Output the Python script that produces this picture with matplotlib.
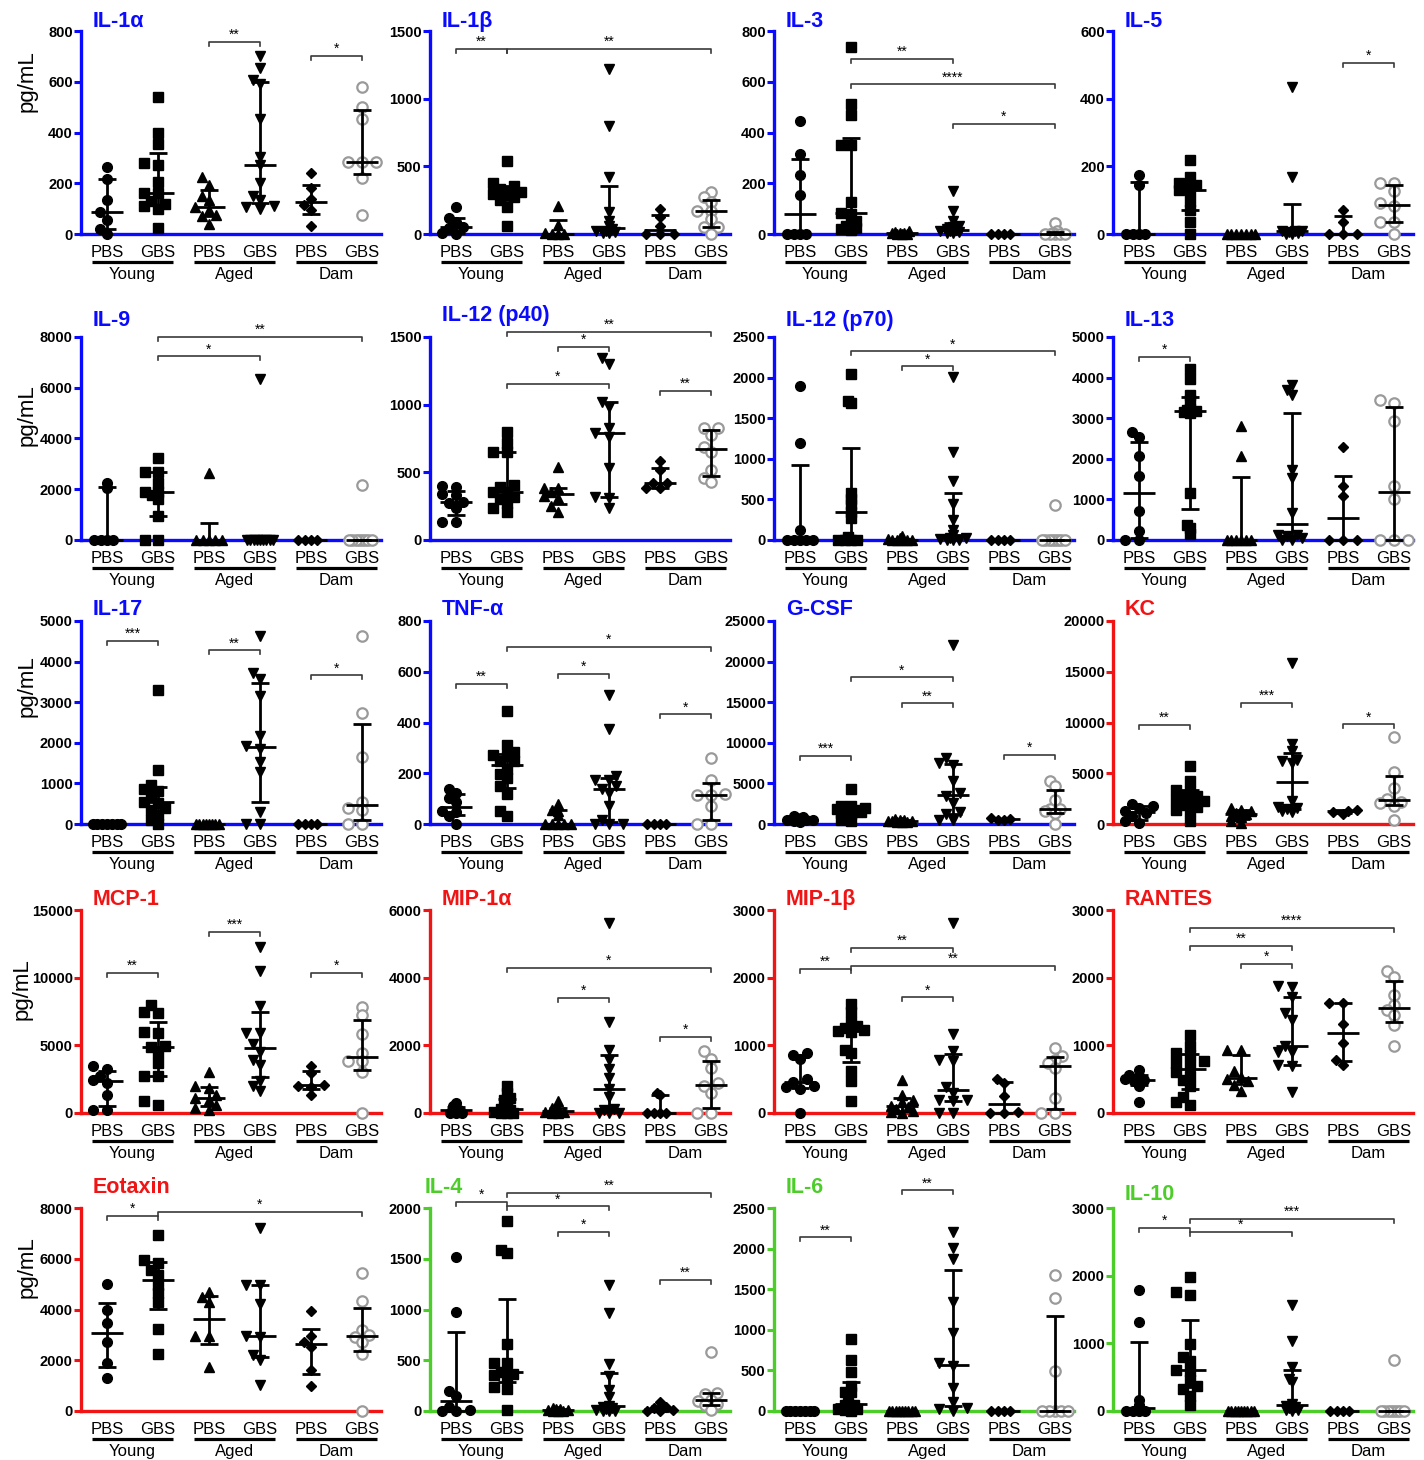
# Multiplex cytokine panel - scatter dot plots with median / IQR and
# significance brackets, laid out as a 5 x 4 grid like the Prism figure.

import numpy as np
import matplotlib.pyplot as plt
from matplotlib.transforms import ScaledTranslation

plt.rcParams['font.family'] = ['Liberation Sans', 'DejaVu Sans']

# ---------------------------------------------------------------- data
groups = ['PBS', 'GBS', 'PBS', 'GBS', 'PBS', 'GBS']
cohorts = ['Young', 'Aged', 'Dam']

titles = ['IL-1α', 'IL-1β', 'IL-3', 'IL-5',
          'IL-9', 'IL-12 (p40)', 'IL-12 (p70)', 'IL-13',
          'IL-17', 'TNF-α', 'G-CSF', 'KC',
          'MCP-1', 'MIP-1α', 'MIP-1β', 'RANTES',
          'Eotaxin', 'IL-4', 'IL-6', 'IL-10']
kind = ['b', 'b', 'b', 'b', 'b', 'b', 'b', 'b', 'b', 'b', 'b', 'r',
        'r', 'r', 'r', 'r', 'r', 'g', 'g', 'g']
ymax = [800, 1500, 800, 600, 8000, 1500, 2500, 5000, 5000, 800, 25000, 20000,
        15000, 6000, 3000, 3000, 8000, 2000, 2500, 3000]
ystep = [200, 500, 200, 200, 2000, 500, 500, 1000, 1000, 200, 5000, 5000,
         5000, 2000, 1000, 1000, 2000, 500, 500, 1000]

# each panel: Young PBS, Young GBS, Aged PBS, Aged GBS, Dam PBS, Dam GBS
il1a = [[265, 215, 134, 87, 56, 20, 0],
        [540, 400, 355, 280, 270, 205, 163, 160, 130, 120, 110, 100, 25],
        [225, 195, 150, 135, 105, 95, 75, 70, 40],
        [700, 655, 605, 590, 455, 305, 270, 200, 150, 135, 110, 105, 100],
        [239, 180, 137, 115, 95, 33],
        [581, 500, 452, 285, 285, 285, 219, 76]]
il1b = [[197, 120, 85, 55, 45, 5, 0],
        [541, 374, 357, 330, 307, 300, 295, 270, 250, 197, 57],
        [209, 65, 5, 0, 0, 0],
        [1217, 799, 420, 160, 98, 61, 35, 25, 20, 15, 10, 5],
        [184, 123, 61, 0, 0, 0],
        [307, 270, 233, 172, 172, 110, 49, 49, 0]]
il3 = [[446, 317, 233, 155, 0, 0, 0, 0],
       [738, 514, 467, 351, 351, 125, 82, 80, 50, 40, 30, 25, 20, 15],
       [10, 8, 5, 5, 3, 0, 0, 0],
       [168, 92, 50, 30, 26, 20, 15, 12, 10, 8, 5, 3],
       [0, 0, 0, 0],
       [42, 10, 5, 0, 0, 0, 0, 0]]
il5 = [[175, 146, 0, 0, 0, 0],
       [219, 167, 150, 146, 140, 130, 128, 98, 71, 34, 0],
       [0, 0, 0, 0, 0, 0, 0],
       [435, 167, 10, 10, 8, 5, 3, 0, 0],
       [71, 34, 0, 0, 0],
       [150, 150, 126, 92, 82, 34, 34, 0]]
il9 = [[2230, 2060, 0, 0, 0, 0],
       [3250, 2690, 2690, 2230, 1900, 1900, 1770, 1600, 957, 0, 0],
       [2623, 0, 0, 0, 0, 0],
       [6360, 0, 0, 0, 0, 0, 0, 0, 0, 0],
       [0, 0, 0, 0],
       [2164, 0, 0, 0, 0, 0, 0, 0, 0]]
il12p40 = [[400, 393, 337, 332, 283, 270, 234, 135, 135],
           [799, 718, 652, 652, 406, 393, 357, 356, 320, 300, 270, 234, 209],
           [541, 386, 386, 357, 323, 307, 250, 209],
           [1345, 1303, 1020, 983, 824, 787, 762, 529, 320, 307, 238],
           [585, 516, 423, 418, 381, 381],
           [829, 829, 775, 690, 652, 516, 460, 430]]
il12p70 = [[1893, 1200, 119, 0, 0, 0, 0, 0],
           [2049, 1717, 1684, 578, 500, 438, 340, 275, 41, 0, 0, 0, 0],
           [50, 20, 10, 5, 0, 0, 0, 0],
           [2008, 1078, 725, 438, 246, 123, 61, 30, 20, 10, 5, 0, 0],
           [0, 0, 0, 0],
           [430, 0, 0, 0, 0, 0, 0, 0, 0]]
il13 = [[2664, 2541, 2074, 1582, 713, 230, 0, 0],
        [4221, 3959, 3566, 3459, 3238, 3197, 3172, 3150, 3139, 1148, 369, 287, 139],
        [2803, 2066, 0, 0, 0, 0, 0, 0],
        [3828, 3705, 3582, 1721, 1533, 656, 130, 120, 100, 50, 0, 0],
        [2279, 1328, 1074, 0, 0, 0],
        [3443, 3385, 2934, 1336, 1008, 0, 0, 0]]
il17 = [[0, 0, 0, 0, 0, 0, 0],
        [3298, 1340, 970, 860, 806, 683, 535, 518, 395, 354, 230, 107, 0],
        [0, 0, 0, 0, 0, 0, 0, 0],
        [4630, 3725, 3577, 3150, 2163, 1933, 1850, 1520, 1275, 288, 0, 0],
        [0, 0, 0, 0],
        [4630, 2722, 1653, 554, 400, 354, 0, 0]]
tnfa = [[138, 122, 103, 85, 50, 46, 30, 0],
        [447, 311, 284, 271, 267, 247, 247, 218, 197, 182, 149, 118, 53, 33],
        [79, 54, 53, 34, 0, 0, 0, 0, 0],
        [507, 375, 188, 175, 172, 150, 139, 122, 70, 17, 0, 0, 0],
        [0, 0, 0, 0],
        [260, 175, 120, 116, 116, 70, 0, 0]]
gcsf = [[1000, 900, 700, 550, 520, 450, 400, 300],
        [4296, 2200, 2168, 2000, 1800, 1760, 1700, 1432, 1350, 1268, 941, 532, 327],
        [600, 500, 450, 400, 380, 350, 300, 250, 200],
        [22013, 8101, 7488, 7283, 5237, 3805, 3400, 2578, 1432, 1200, 532, 500],
        [700, 600, 550, 450],
        [5237, 4623, 2987, 1900, 1800, 1555, 1300, 0]]
kc = [[1974, 1809, 1579, 1250, 1050, 757, 300, 99],
      [5757, 4276, 3388, 3289, 2900, 2730, 2401, 2300, 2237, 1908, 1700, 1414, 1250, 329],
      [1579, 1414, 1300, 1100, 1020, 822, 658, 250, 99],
      [15822, 7928, 7171, 6349, 6184, 6000, 2237, 1678, 1579, 1500, 1250, 1200],
      [1400, 1300, 1200, 1000],
      [8553, 5098, 3553, 2470, 2200, 2072, 1750, 428]]
mcp1 = [[3492, 3246, 2754, 2420, 2250, 1352, 246, 246],
        [7992, 7500, 7426, 6000, 5902, 4918, 4869, 4426, 3689, 2754, 2705, 861, 615],
        [3000, 2016, 1844, 1352, 1106, 984, 615, 369, 246],
        [12295, 10525, 7942, 5902, 5902, 5090, 4500, 3934, 3566, 2336, 2000, 1598],
        [3492, 2951, 2100, 2016, 1930, 1352],
        [7868, 7254, 5852, 4450, 3811, 3811, 3000, 0]]
mip1a = [[295, 197, 148, 98, 50, 0, 0, 0],
         [787, 590, 443, 393, 344, 197, 110, 90, 60, 30, 10, 0, 0],
         [344, 150, 130, 60, 40, 20, 0, 0],
         [5606, 2675, 1869, 1574, 1308, 1033, 708, 472, 120, 80, 0, 0, 0],
         [590, 530, 0, 0, 0, 0],
         [1820, 1593, 1328, 885, 790, 590, 0, 0]]
mip1b = [[885, 861, 797, 502, 452, 393, 384, 354, 0],
         [1613, 1490, 1338, 1279, 1254, 1220, 1205, 1190, 934, 885, 615, 467, 172],
         [492, 270, 197, 157, 110, 90, 59, 30, 10, 0],
         [2813, 1170, 910, 787, 762, 390, 300, 197, 197, 172, 0, 0],
         [502, 440, 256, 10, 0, 0],
         [959, 846, 787, 732, 664, 221, 0, 0]]
rantes = [[630, 560, 541, 500, 485, 467, 393, 157],
          [1156, 984, 885, 861, 762, 738, 713, 600, 550, 492, 400, 236, 157, 123],
          [934, 934, 615, 530, 502, 467, 418, 320],
          [1879, 1859, 1711, 1485, 1367, 984, 900, 895, 713, 689, 310],
          [1633, 1623, 1318, 1033, 787, 703],
          [2100, 2017, 1746, 1600, 1515, 1451, 1303, 984]]
eotaxin = [[5008, 3980, 3453, 2728, 1898, 1305],
           [6945, 5957, 5825, 5561, 5363, 4968, 4639, 4309, 3216, 2240],
           [4705, 4481, 4283, 2965, 2965, 1740],
           [7208, 4968, 4968, 4217, 2952, 2900, 2201, 2029, 1015],
           [3953, 2965, 2728, 2530, 1608, 975],
           [5456, 4349, 3189, 3000, 2900, 2728, 2240, 0]]
il4 = [[1516, 972, 198, 150, 40, 10, 0, 0],
       [1868, 1588, 1555, 659, 468, 468, 385, 369, 350, 329, 237, 221, 13],
       [30, 20, 15, 10, 5, 0, 0, 0],
       [1242, 969, 461, 343, 204, 138, 50, 40, 30, 20, 10, 0, 0, 0],
       [89, 40, 33, 5, 0, 0],
       [583, 180, 165, 108, 100, 72, 56, 7]]
il6 = [[0, 0, 0, 0, 0, 0, 0],
       [885, 626, 482, 309, 235, 235, 99, 80, 70, 50, 30, 20, 10, 0],
       [0, 0, 0, 0, 0, 0, 0, 0, 0],
       [2203, 2006, 1870, 1347, 955, 593, 550, 288, 111, 40, 20, 0],
       [0, 0, 0, 0],
       [1676, 1388, 494, 0, 0, 0, 0, 0]]
il10 = [[1789, 1310, 158, 84, 5, 0, 0, 0],
        [1987, 1765, 1715, 984, 801, 741, 603, 593, 465, 366, 331, 217, 84],
        [0, 0, 0, 0, 0, 0, 0, 0, 0],
        [1567, 1038, 652, 480, 430, 109, 70, 60, 40, 20, 10, 0],
        [0, 0, 0, 0],
        [751, 0, 0, 0, 0, 0, 0, 0, 0]]

panels = [il1a, il1b, il3, il5, il9, il12p40, il12p70, il13, il17, tnfa,
          gcsf, kc, mcp1, mip1a, mip1b, rantes, eotaxin, il4, il6, il10]

# significance brackets: (group a, group b, height, stars)
brackets = [
    [(3, 4, 758, '**'), (5, 6, 702, '*')],
    [(1, 2, 1365, '**'), (2, 6, 1365, '**')],
    [(2, 4, 689, '**'), (2, 6, 590, '****'), (4, 6, 435, '*')],
    [(5, 6, 505, '*')],
    [(2, 4, 7240, '*'), (2, 6, 8000, '**')],
    [(2, 6, 1537, '**'), (3, 4, 1426, '*'), (2, 4, 1156, '*'), (5, 6, 1101, '**')],
    [(3, 4, 2139, '*'), (2, 6, 2324, '*')],
    [(1, 2, 4508, '*')],
    [(1, 2, 4507, '***'), (3, 4, 4276, '**'), (5, 6, 3660, '*')],
    [(1, 2, 553, '**'), (2, 6, 699, '*'), (3, 4, 593, '*'), (5, 6, 432, '*')],
    [(1, 2, 8429, '***'), (2, 4, 18044, '*'), (3, 4, 14853, '**'), (5, 6, 8510, '*')],
    [(1, 2, 9737, '**'), (3, 4, 11940, '***'), (5, 6, 9803, '*')],
    [(1, 2, 10376, '**'), (3, 4, 13400, '***'), (5, 6, 10376, '*')],
    [(2, 6, 4298, '*'), (3, 4, 3413, '*'), (5, 6, 2243, '*')],
    [(1, 2, 2125, '**'), (2, 4, 2435, '**'), (2, 6, 2174, '**'), (3, 4, 1707, '*')],
    [(2, 6, 2730, '****'), (2, 4, 2474, '**'), (3, 4, 2199, '*')],
    [(1, 2, 7696, '*'), (2, 6, 7841, '*')],
    [(1, 2, 2059, '*'), (2, 6, 2148, '**'), (2, 4, 2016, '*'), (3, 4, 1763, '*'), (5, 6, 1292, '**')],
    [(1, 2, 2138, '**'), (3, 4, 2718, '**')],
    [(1, 2, 2704, '*'), (2, 6, 2842, '***'), (2, 4, 2645, '*')],
]

# ---------------------------------------------------------------- style
colors = {'b': '#0a0aff', 'r': '#f01414', 'g': '#4ccd2a'}
markers = [dict(marker='o', ms=7, mfc='k', mec='k'),
           dict(marker='s', ms=6.5, mfc='k', mec='k'),
           dict(marker='^', ms=7.5, mfc='k', mec='k'),
           dict(marker='v', ms=7.5, mfc='k', mec='k'),
           dict(marker='D', ms=5, mfc='k', mec='k'),
           dict(marker='o', ms=7.5, mfc='white', mec='#9a9a9a', mew=1.6)]

W, H = 1424, 1460
col_left = [81, 430, 774, 1113]
row_top = [31, 337, 621, 910, 1208]
row_zero = [234, 540, 824, 1113, 1411]
title_base = [27, 326, 615, 905, 1193]
ylab_mid = [81, 415, 686, 989, 1267]
ylab_x = [27, 27, 27, 22, 27]
axw = 300
ppx = 51.0          # pixels per group on x
x0 = 0.49


def swarm(vals, ppy, limit=0.3):
    """horizontal offsets so markers of one group do not pile up"""
    vals = np.asarray(vals, float)
    order = np.argsort(vals, kind='stable')
    for d in [9.0, 8.0, 7.0, 6.0, 5.0, 4.0, 3.0, 2.0]:
        step = 0.8 * d / ppx
        cands = [0.0]
        for k in range(1, 20):
            cands += [-k * step, k * step]
        cands = [c for c in cands if abs(c) <= limit]
        offs = np.zeros(len(vals))
        placed = []
        ok = True
        for i in order:
            best, best_gap, found = 0.0, -1.0, False
            for c in cands:
                gap = min([np.hypot((c - po) * ppx, (vals[i] - pv) * ppy)
                           for po, pv in placed] + [1e9])
                if gap >= 0.9 * d:
                    best, found = c, True
                    break
                if gap > best_gap:
                    best_gap, best = gap, c
            ok = ok and found
            offs[i] = best
            placed.append((best, vals[i]))
        if ok:
            break
    return offs


fig = plt.figure(figsize=(W / 100, H / 100), dpi=100)

for p in range(20):
    r, c = divmod(p, 4)
    L, T, Z = col_left[c], row_top[r], row_zero[r]
    ax = fig.add_axes([L / W, 1 - Z / H, axw / W, (Z - T) / H])
    col = colors[kind[p]]
    ppy = (Z - T) / ymax[p]

    for g, vals in enumerate(panels[p]):
        xg = g + 1
        offs = swarm(vals, ppy)
        ax.plot(xg + offs, vals, ls='none', clip_on=False, zorder=3, **markers[g])
        q1, med, q3 = np.percentile(vals, [25, 50, 75], method='weibull')
        kw = dict(color='k', lw=2, clip_on=False, zorder=4, solid_capstyle='butt')
        ax.plot([xg, xg], [q1, q3], **kw)
        ax.plot([xg - 0.18, xg + 0.18], [q1, q1], **kw)
        ax.plot([xg - 0.18, xg + 0.18], [q3, q3], **kw)
        ax.plot([xg - 0.32, xg + 0.32], [med, med], **kw)

    # brackets
    tick = 4 / ppy
    for a, b, y, s in brackets[p]:
        ax.plot([a, a, b, b], [y - tick, y, y, y - tick], color='#3a3a3a',
                lw=1.2, clip_on=False, zorder=2)
        ax.annotate(s, ((a + b) / 2, y), xytext=(0, 0), textcoords='offset points',
                    ha='center', va='bottom', fontsize=10, annotation_clip=False)

    ax.set_xlim(x0, x0 + axw / ppx)
    ax.set_ylim(0, ymax[p])
    ax.set_yticks(np.arange(0, ymax[p] + 1, ystep[p]))
    ax.set_yticklabels([str(v) for v in np.arange(0, ymax[p] + 1, ystep[p])],
                       fontweight='bold', fontsize=10.5)
    ax.set_xticks([])
    ax.tick_params(axis='y', direction='out', length=5, width=2.2, color=col, pad=1)
    for side in ['top', 'right']:
        ax.spines[side].set_visible(False)
    for side in ['left', 'bottom']:
        ax.spines[side].set_color(col)
        ax.spines[side].set_linewidth(2.4)
    ax.patch.set_visible(False)

    # group labels under the axis
    xt = ax.get_xaxis_transform()
    for g in range(6):
        ax.annotate(groups[g], (g + 1, 0), xycoords=xt, xytext=(0, -13),
                    textcoords='offset points', ha='center', va='center', fontsize=12)
    for k in range(3):
        xc = 2 * k + 1.5
        off = ScaledTranslation(0, -20 / 72, fig.dpi_scale_trans)
        ax.plot([xc - 0.8, xc + 0.8], [0, 0], color='k', lw=2.3,
                transform=xt + off, clip_on=False, solid_capstyle='butt')
        ax.annotate(cohorts[k], (xc, 0), xycoords=xt, xytext=(0, -29),
                    textcoords='offset points', ha='center', va='center', fontsize=12)

    # title
    tb = title_base[r]
    tx = L + 12
    if titles[p] == 'IL-12 (p40)':
        tb = 321
    if titles[p] == 'IL-10':
        tb = 1200
    if titles[p] == 'IL-4':
        tx = L - 5
    fig.text(tx / W, 1 - tb / H, titles[p], color=col, fontsize=15.5,
             fontweight='bold', ha='left', va='baseline')

    if c == 0:
        fig.text(ylab_x[r] / W, 1 - ylab_mid[r] / H, 'pg/mL', rotation=90,
                 fontsize=16, ha='center', va='center')

plt.savefig('out.png', dpi=100)
